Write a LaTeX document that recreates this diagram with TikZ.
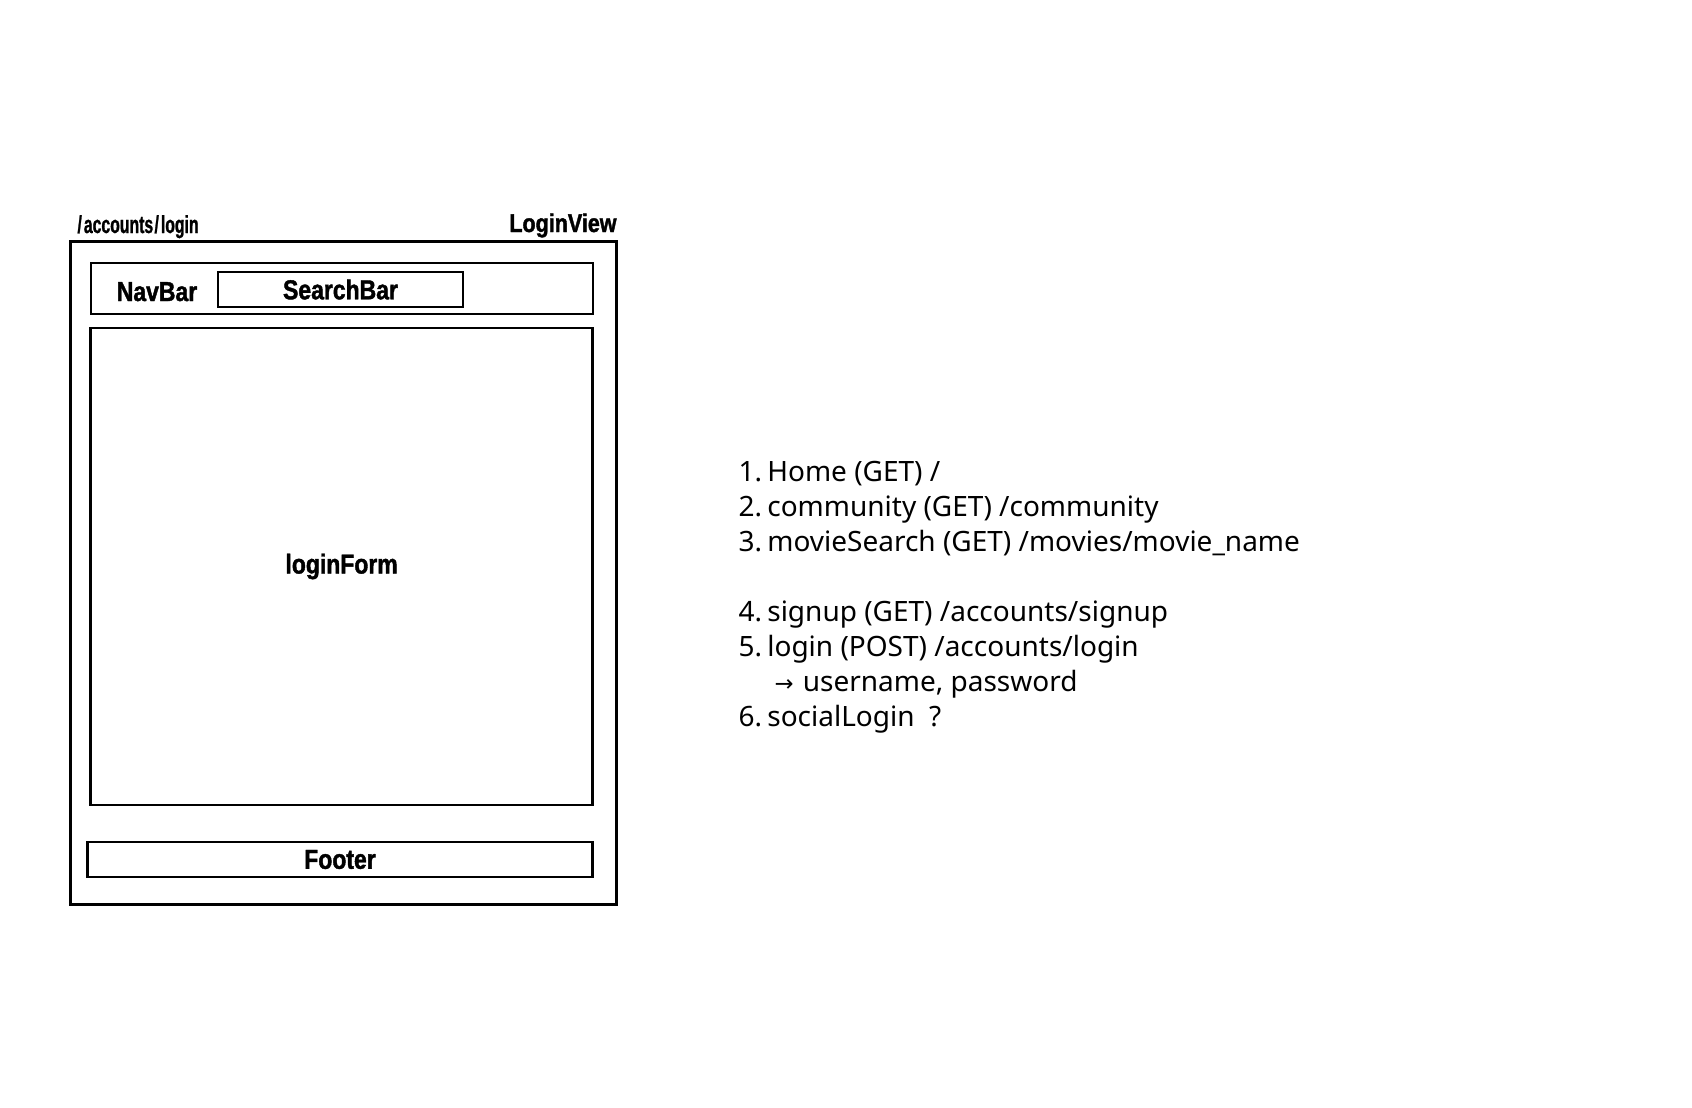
\documentclass[tikz,border=0pt]{standalone}
\usepackage{fontspec}
\setmainfont{Noto Sans}
\newfontfamily\labelfont[FakeStretch=0.84,FakeBold=1.5]{Liberation Sans}
\newfontfamily\urlfont[FakeStretch=0.64,FakeBold=1]{Liberation Sans}
\newfontfamily\arrowfont{DejaVu Sans}

\tikzset{every picture/.style={line width=0.75pt}}
\tikzset{
  viewbox/.style={draw, line width=2.25pt, inner sep=0pt},
  partbox/.style={draw, line width=2pt, inner sep=0pt, font=\labelfont\bfseries\fontsize{20.5}{22}\selectfont},
  boxlabel/.style={inner sep=0pt, font=\labelfont\bfseries\fontsize{20.5}{22}\selectfont},
  listline/.style={anchor=base west, inner sep=0pt, font=\fontsize{21}{25}\selectfont}
}

\begin{document}
\begin{tikzpicture}[x=0.75pt,y=0.75pt,yscale=-1,xscale=1]
\useasboundingbox (0,0) rectangle (1692,1107);

% Page frame
\node [viewbox, minimum width=409.5pt, minimum height=497.25pt] (loginview) at (343,572.5) {};
% Nav bar
\node [partbox, minimum width=376.5pt, minimum height=38.25pt] (navbar) at (342,288.5) {};
\node [partbox, minimum width=183.75pt, minimum height=26.25pt] (searchbar) at (340.5,289.5) {SearchBar};
% Content
\node [partbox, minimum width=376.5pt, minimum height=357.75pt] (loginform) at (341.6,566.5) {loginForm};
% Footer
\node [partbox, minimum width=378.75pt, minimum height=26.25pt] (footer) at (340,859.5) {Footer};

% Text Node
\draw (157,301) node [boxlabel, anchor=base] (navlabel) {NavBar};
% Text Node
\draw (77,233) node [anchor=base west, inner sep=0pt, font=\urlfont\bfseries\fontsize{18.5}{20}\selectfont] (urllabel) {/\kern1.5pt accounts\kern1pt/\kern1.5pt login};
% Text Node
\draw (617,232) node [anchor=base east, inner sep=0pt, font=\labelfont\bfseries\fontsize{19.2}{20}\selectfont] (viewlabel) {LoginView};

% Text Node
\draw (738,481.7) node [listline] (home) {1.\hspace{4pt}Home (GET) /};
% Text Node
\draw (738,516.7) node [listline] (community) {2.\hspace{4pt}community (GET) /community};
% Text Node
\draw (738,551.7) node [listline] (moviesearch) {3.\hspace{4pt}movieSearch (GET) /movies/movie\_name};
% Text Node
\draw (738,621.7) node [listline] (signup) {4.\hspace{4pt}signup (GET) /accounts/signup};
% Text Node
\draw (738,656.7) node [listline] (login) {5.\hspace{4pt}login (POST) /accounts/login};
% Text Node
\draw (774,691.7) node [listline] (loginfields) {{\arrowfont\fontsize{17}{20}\selectfont →}\hspace{7pt}username, password};
% Text Node
\draw (738,726.7) node [listline] (sociallogin) {6.\hspace{4pt}socialLogin\ \ ?};

\end{tikzpicture}
\end{document}
